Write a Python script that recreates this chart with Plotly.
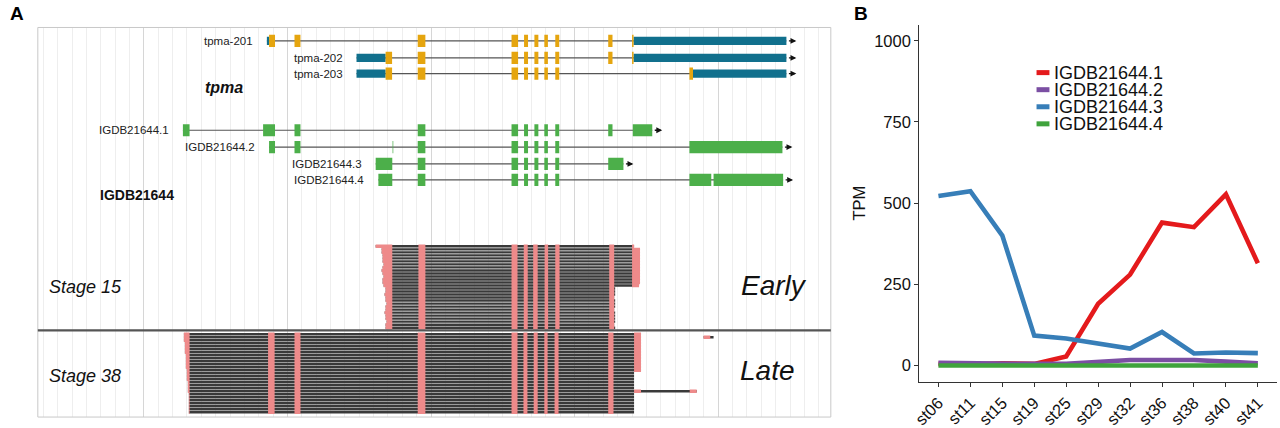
import plotly.graph_objects as go

FONT = 'Liberation Sans, Arial, Helvetica, sans-serif'
W, H = 1280, 428

# ---------------- panel B: expression ----------------
STAGES = ['st06', 'st11', 'st15', 'st19', 'st25', 'st29', 'st32', 'st36', 'st38', 'st40', 'st41']
TPM_1 = [5, 4, 7, 5, 28, 190, 280, 440, 426, 527, 315]
TPM_2 = [8, 6, 5, 5, 5, 12, 17, 17, 17, 12, 7]
TPM_3 = [522, 537, 400, 92, 83, 67, 52, 103, 37, 40, 38]
TPM_4 = [0, 0, 0, 0, 0, 2, 3, 2, 2, 1, 0]
SERIES_NAMES = ['IGDB21644.1', 'IGDB21644.2', 'IGDB21644.3', 'IGDB21644.4']
SERIES_COLORS = ['#E41A1C', '#7B4FA3', '#377EB8', '#3FA33C']

# ---------------- panel A: gene models (track position units) ----------------
SHARED_EXONS = [(506.7, 513.3), (519.3, 523.3), (529.7, 533.7), (539.7, 543.3), (550.7, 554.7)]

TPMA_201_CDS = [(262.7, 268.7), (288.3, 294.3), (412.3, 420)] + SHARED_EXONS + [(604, 608.3), (628, 629.5)]
TPMA_201_UTR = [(260.5, 262.7), (629.5, 783.3)]
TPMA_202_CDS = [(380, 386.5), (412.3, 420)] + SHARED_EXONS + [(604, 608.3), (628, 629.5)]
TPMA_202_UTR = [(350.7, 380), (629.5, 783.3)]
TPMA_203_CDS = [(380, 386.5), (412.3, 420)] + SHARED_EXONS + [(685.7, 689.3)]
TPMA_203_UTR = [(350.7, 380), (689.3, 783.3)]

IGDB_1_EXONS = [(176, 182.7), (256.7, 268.7), (288.3, 294.3), (412.3, 420)] + SHARED_EXONS + [(604, 608.3), (628.7, 648.3)]
IGDB_2_EXONS = [(262.7, 268.7), (288.3, 294.3), (387, 387.7), (412.3, 420)] + SHARED_EXONS + [(685.7, 779.3)]
IGDB_3_EXONS = [(370, 386.7), (412.3, 420)] + SHARED_EXONS + [(604, 619.3)]
IGDB_4_EXONS = [(372.7, 386.7), (412.3, 420)] + SHARED_EXONS + [(685.7, 707.7), (710, 780)]

# ---------------- panel A: read pileups ----------------
STAGE15_START = [370, 376, 376, 377, 377, 377, 378, 377, 376, 377, 378, 377, 377, 378,
                 380, 380, 379, 380, 380, 381, 380, 380, 379, 380, 380, 381, 380, 380]
STAGE15_END = [630, 636, 636, 636, 636, 636, 636, 636, 636, 636, 636, 636, 636, 635,
               611, 611, 611, 610, 611, 611, 611, 610, 611, 611, 611, 611, 610, 611]
STAGE15_PINK = [(370, 386.7), (413, 420), (506.7, 512.7), (519, 523), (528.5, 533),
                (540, 543.5), (550.7, 555), (605, 610), (628, 636)]

STAGE38_START = [177, 177, 177, 178, 178, 178, 178, 179, 179, 179, 179, 179, 180, 180,
                 180, 180, 181, 181, 181, 181, 182, 182, 182, 182, 182, 182, 182]
STAGE38_END = [637, 637, 637, 637, 637, 637, 637, 637, 637, 637, 637, 637, 637, 630,
               630, 630, 630, 630, 630, 693, 630, 630, 630, 630, 630, 630, 630]
STAGE38_EXTRA = [(1, 700, 710)]
STAGE38_PINK = [(176.5, 182.7), (261.7, 268.3), (288.3, 294.3), (412.3, 420), (506.7, 512.7),
                (518.7, 522.7), (529, 533), (539.7, 543), (550, 554), (604, 609.3),
                (630, 637), (686, 693), (700, 706.7)]

ORANGE = '#E5A50F'
TEAL = '#11708D'
GREEN = '#4CAF4A'
PINK = '#EE8A8A'
DARK = '#3A3A3A'

# lanes for gene track (layout)
LANES = {'tpma-201': 0, 'tpma-202': 1.03, 'tpma-203': 1.98,
         'IGDB21644.1': 5.42, 'IGDB21644.2': 6.44, 'IGDB21644.3': 7.46, 'IGDB21644.4': 8.43}


def fx(p):
    return p / W


def fy(p):
    return 1 - p / H


fig = go.Figure()
shapes = []
annotations = []


def add_transcript(name, tall, short, color_tall, color_short):
    lane = LANES[name]
    blocks = tall + short
    start = min(b[0] for b in blocks)
    end = max(b[1] for b in blocks)
    shapes.append(dict(type='line', xref='x', yref='y', x0=start, x1=end, y0=lane, y1=lane,
                       line=dict(color='#555555', width=1.2)))
    for s, e in short:
        shapes.append(dict(type='rect', xref='x', yref='y', x0=s, x1=e, y0=lane - 0.25, y1=lane + 0.25,
                           fillcolor=color_short, line=dict(width=0)))
    for s, e in tall:
        shapes.append(dict(type='rect', xref='x', yref='y', x0=s, x1=e, y0=lane - 0.37, y1=lane + 0.37,
                           fillcolor=color_tall, line=dict(width=0)))
    annotations.append(dict(x=end + 10, y=lane, ax=end + 1, ay=lane, xref='x', yref='y',
                            axref='x', ayref='y', text='', showarrow=True, arrowhead=2,
                            arrowsize=0.9, arrowwidth=1.3, arrowcolor='#111'))
    annotations.append(dict(x=start, y=lane, xref='x', yref='y', text=name, showarrow=False,
                            xanchor='right', xshift=-12, font=dict(family=FONT, size=11.5, color='#222')))


add_transcript('tpma-201', TPMA_201_CDS, TPMA_201_UTR, ORANGE, TEAL)
add_transcript('tpma-202', TPMA_202_CDS, TPMA_202_UTR, ORANGE, TEAL)
add_transcript('tpma-203', TPMA_203_CDS, TPMA_203_UTR, ORANGE, TEAL)
add_transcript('IGDB21644.1', IGDB_1_EXONS, [], GREEN, GREEN)
add_transcript('IGDB21644.2', IGDB_2_EXONS, [], GREEN, GREEN)
add_transcript('IGDB21644.3', IGDB_3_EXONS, [], GREEN, GREEN)
add_transcript('IGDB21644.4', IGDB_4_EXONS, [], GREEN, GREEN)

annotations.append(dict(x=196.7, y=2.82, xref='x', yref='y', text='<b><i>tpma</i></b>', showarrow=False,
                        xanchor='left', font=dict(family=FONT, size=16, color='#111')))
annotations.append(dict(x=91, y=9.37, xref='x', yref='y', text='<b>IGDB21644</b>', showarrow=False,
                        xanchor='left', font=dict(family=FONT, size=14, color='#111')))


def add_reads(starts, ends, extra, pink_cols, xa, ya):
    reads = [(i, s, e) for i, (s, e) in enumerate(zip(starts, ends))] + list(extra)
    dx, dy, px, py = [], [], [], []
    for r, s, e in reads:
        dx += [s, e, None]
        dy += [r, r, None]
        for c0, c1 in pink_cols:
            a, b = max(c0, s), min(c1, e)
            if b > a:
                px += [a, b, None]
                py += [r, r, None]
    fig.add_trace(go.Scatter(x=dx, y=dy, mode='lines', line=dict(color=DARK, width=2.4),
                             xaxis=xa, yaxis=ya, hoverinfo='skip', showlegend=False))
    fig.add_trace(go.Scatter(x=px, y=py, mode='lines', line=dict(color=PINK, width=3.4),
                             xaxis=xa, yaxis=ya, hoverinfo='skip', showlegend=False))


add_reads(STAGE15_START, STAGE15_END, [], STAGE15_PINK, 'x2', 'y2')
add_reads(STAGE38_START, STAGE38_END, STAGE38_EXTRA, STAGE38_PINK, 'x3', 'y3')

# stage labels
for txt, ref, yv, size, xv in [('Stage 15', 'y2 domain', 0.5, 18, 39.5),
                               ('Stage 38', 'y3 domain', 0.47, 18, 39.5),
                               ('Early', 'y2 domain', 0.52, 28, 736),
                               ('Late', 'y3 domain', 0.54, 28, 735)]:
    annotations.append(dict(x=xv, y=yv, xref='x', yref=ref, text=f'<i>{txt}</i>', showarrow=False,
                            xanchor='left', font=dict(family=FONT, size=size, color='#111')))

# panel A frame and stage divider
shapes.append(dict(type='rect', xref='paper', yref='paper', x0=fx(30), x1=fx(828), y0=fy(425), y1=fy(28),
                   line=dict(color='#c8c8c8', width=1), layer='above'))
shapes.append(dict(type='line', xref='paper', yref='paper', x0=fx(30), x1=fx(828), y0=fy(336.7), y1=fy(336.7),
                   line=dict(color='#555555', width=2.2)))

# ---------------- panel B traces ----------------
for name, vals, color in zip(SERIES_NAMES, [TPM_1, TPM_2, TPM_3, TPM_4], SERIES_COLORS):
    fig.add_trace(go.Scatter(x=STAGES, y=vals, mode='lines', name=name,
                             line=dict(color=color, width=4.6), xaxis='x4', yaxis='y4',
                             showlegend=False))

# manual legend (tight ggplot spacing)
for i, (name, color) in enumerate(zip(SERIES_NAMES, SERIES_COLORS)):
    yy = fy(74 + 17.4 * i)
    shapes.append(dict(type='line', xref='paper', yref='paper', x0=fx(1035), x1=fx(1048), y0=yy, y1=yy,
                       line=dict(color=color, width=5)))
    annotations.append(dict(x=fx(1051), y=yy, xref='paper', yref='paper', text=name, showarrow=False,
                            xanchor='left', yanchor='middle', font=dict(family=FONT, size=18, color='#111')))

# panel letters
annotations.append(dict(x=fx(9.5), y=fy(14), xref='paper', yref='paper', text='<b>A</b>', showarrow=False,
                        xanchor='center', yanchor='middle', font=dict(family=FONT, size=19, color='#000')))
annotations.append(dict(x=fx(858), y=fy(14), xref='paper', yref='paper', text='<b>B</b>', showarrow=False,
                        xanchor='center', yanchor='middle', font=dict(family=FONT, size=19, color='#000')))

track_x = dict(range=[30, 828], domain=[fx(30), fx(828)], showticklabels=False, ticks='',
               showline=False, zeroline=False, showgrid=True, gridcolor='#d6d6d6', gridwidth=1,
               tick0=136.7, dtick=144.5,
               minor=dict(showgrid=True, gridcolor='#eeeeee', tick0=136.7, dtick=14.45))

fig.update_layout(
    width=W, height=H,
    margin=dict(l=0, r=0, t=0, b=0),
    paper_bgcolor='white', plot_bgcolor='white',
    font=dict(family=FONT, color='#111'),
    showlegend=False,
    xaxis=dict(track_x, anchor='y'),
    yaxis=dict(range=[12.28, -0.815], domain=[fy(248), fy(28)], visible=False, anchor='x'),
    xaxis2=dict(track_x, anchor='y2', matches='x'),
    yaxis2=dict(range=[27.9, -0.98], domain=[fy(336.7), fy(248)], visible=False, anchor='x2'),
    xaxis3=dict(track_x, anchor='y3', matches='x'),
    yaxis3=dict(range=[27.6, -1.3], domain=[fy(425), fy(336.7)], visible=False, anchor='x3'),
    xaxis4=dict(domain=[fx(917), fx(1277)], anchor='y4', type='category', range=[-0.6, 10.6],
                showline=True, linecolor='#333', linewidth=1.2, ticks='outside', ticklen=4,
                tickcolor='#333', tickangle=-45, tickfont=dict(family=FONT, size=16.5, color='#111'),
                showgrid=False, zeroline=False),
    yaxis4=dict(domain=[fy(389), fy(25)], anchor='x4', range=[-50, 1050],
                tickvals=[0, 250, 500, 750, 1000], showline=True, linecolor='#333', linewidth=1.2,
                ticks='outside', ticklen=4, tickcolor='#333',
                tickfont=dict(family=FONT, size=16.5, color='#111'),
                title=dict(text='TPM', font=dict(family=FONT, size=16.5, color='#111'), standoff=4),
                showgrid=False, zeroline=False),
    shapes=shapes,
    annotations=annotations,
)

# drop the browser's default body margin so the figure sits at the page origin
fig.write_html('out.html', config={'displayModeBar': False},
               post_script="document.body.style.margin='0';")
